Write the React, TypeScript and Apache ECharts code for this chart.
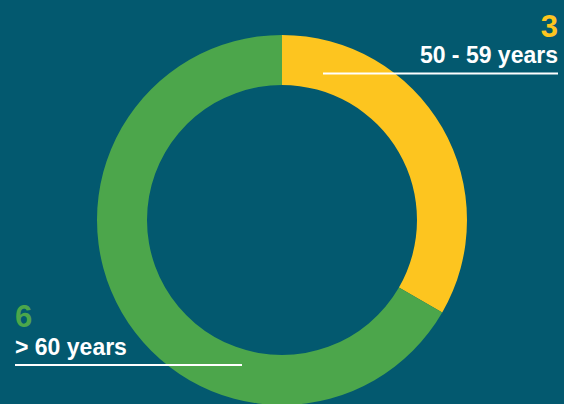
import React, { useEffect, useRef } from "react";
import * as echarts from "echarts";

const categories = ["50 - 59 years", "> 60 years"];
const values = [3, 6];
const colors = ["#FDC51F", "#4CA64B"];

export default function App() {
  const ref = useRef<HTMLDivElement>(null);
  useEffect(() => {
    if (!ref.current) return;
    const chart = echarts.init(ref.current, undefined, { renderer: "svg" });
    const font = "Liberation Sans, Arial, sans-serif";
    chart.setOption({
      animation: false,
      backgroundColor: "#03596F",
      series: [
        {
          type: "pie",
          z: 1,
          center: [282, 220],
          radius: [135, 185],
          startAngle: 90,
          clockwise: true,
          label: { show: false },
          labelLine: { show: false },
          silent: true,
          data: categories.map((c, i) => ({
            name: c,
            value: values[i],
            itemStyle: { color: colors[i] },
          })),
        },
      ],
      graphic: {
        elements: [
          {
            type: "text",
            z: 100,
            x: 558,
            y: 26,
            style: {
              text: String(values[0]),
              fill: colors[0],
              font: `bold 31px ${font}`,
              textAlign: "right",
              textVerticalAlign: "middle",
            },
          },
          {
            type: "text",
            z: 100,
            x: 558,
            y: 55,
            style: {
              text: categories[0],
              fill: "#ffffff",
              font: `bold 23px ${font}`,
              textAlign: "right",
              textVerticalAlign: "middle",
            },
          },
          {
            type: "line",
            z: 100,
            shape: { x1: 323, y1: 73.5, x2: 558, y2: 73.5 },
            style: { stroke: "#ffffff", lineWidth: 2 },
          },
          {
            type: "text",
            z: 100,
            x: 15,
            y: 316,
            style: {
              text: String(values[1]),
              fill: colors[1],
              font: `bold 31px ${font}`,
              textAlign: "left",
              textVerticalAlign: "middle",
            },
          },
          {
            type: "text",
            z: 100,
            x: 15,
            y: 347,
            style: {
              text: categories[1],
              fill: "#ffffff",
              font: `bold 23px ${font}`,
              textAlign: "left",
              textVerticalAlign: "middle",
            },
          },
          {
            type: "line",
            z: 100,
            shape: { x1: 15, y1: 365, x2: 242, y2: 365 },
            style: { stroke: "#ffffff", lineWidth: 2 },
          },
        ],
      },
    });
    return () => chart.dispose();
  }, []);
  return (
    <div
      ref={ref}
      style={{ position: "fixed", left: 0, top: 0, width: 564, height: 404 }}
    />
  );
}
